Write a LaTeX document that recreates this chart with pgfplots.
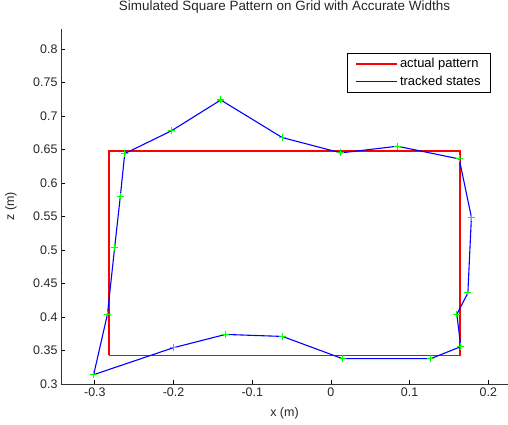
\documentclass[border=0pt]{standalone}
\usepackage{pgfplots}
\pgfplotsset{compat=1.18}
\usetikzlibrary{calc}
\usepackage{fontspec}
\setmainfont{Liberation Sans}
\definecolor{mgreen}{rgb}{0,1,0}
\begin{document}
\begin{tikzpicture}
\begin{axis}[
  scale only axis, width=447bp, height=355bp,
  xmin=-0.343, xmax=0.225, ymin=0.3, ymax=0.83,
  axis x line*=bottom, axis y line*=left,
  xtick={-0.3,-0.2,-0.1,0,0.1,0.2},
  xticklabels={-0.3,-0.2,-0.1,0,0.1,0.2},
  ytick={0.3,0.35,0.4,0.45,0.5,0.55,0.6,0.65,0.7,0.75,0.8},
  yticklabels={0.3,0.35,0.4,0.45,0.5,0.55,0.6,0.65,0.7,0.75,0.8},
  tick align=inside, major tick length=4bp,
  tick style={black, line width=0.8bp},
  axis line style={black!80, line width=0.8bp},
  ticklabel style={font=\fontsize{12.5}{14}\selectfont, text=black!85},
  title={Simulated Square Pattern on Grid with Accurate Widths},
  title style={font=\fontsize{13.5}{15}\selectfont, at={(axis description cs:0.5,1.045)}, anchor=center, text=black!85},
  xlabel={x (m)}, ylabel={z (m)},
  xlabel style={font=\fontsize{12.5}{14}\selectfont, at={(axis description cs:0.5,-0.082)}, anchor=center, text=black!85},
  ylabel style={font=\fontsize{12.5}{14}\selectfont, at={(axis description cs:-0.112,0.5)}, anchor=center, text=black!85},
  legend style={at={(0.962,0.932)}, anchor=north east, draw=black, line width=0.8bp,
    font=\fontsize{13}{14}\selectfont, inner xsep=8bp, inner ysep=3bp, row sep=3bp, cells={anchor=west}},
  legend image code/.code={\draw[#1] (0bp,0bp) -- (41bp,0bp);},
  clip=false,
]
\addplot[color=red, line width=1.2bp] coordinates {
(-0.282,0.3428) (-0.282,0.6478) (0.164,0.6478) (0.164,0.3428) (-0.282,0.3428)};
\addlegendentry{actual pattern}
\addplot[color=blue, line width=1.1bp] coordinates {
(-0.3015,0.3139) (-0.284,0.404) (-0.2748,0.504) (-0.2676,0.580) (-0.262,0.644)
(-0.2027,0.678) (-0.140,0.724) (-0.062,0.668) (0.0127,0.645) (0.0844,0.655)
(0.163,0.636) (0.1785,0.549) (0.174,0.436) (0.160,0.404) (0.165,0.3557)
(0.1268,0.3378) (0.0148,0.3378) (-0.0615,0.371) (-0.134,0.374) (-0.2006,0.354)
(-0.3015,0.3139)};
\addlegendentry{tracked states}
\addplot[only marks, mark=+, mark size=3.5bp, color=mgreen, line width=1.1bp, forget plot] coordinates {
(-0.3015,0.3139) (-0.284,0.404) (-0.2748,0.504) (-0.2676,0.580) (-0.262,0.644)
(-0.2027,0.678) (-0.140,0.724) (-0.062,0.668) (0.0127,0.645) (0.0844,0.655)
(0.163,0.636) (0.1785,0.549) (0.174,0.436) (0.160,0.404) (0.165,0.3557)
(0.1268,0.3378) (0.0148,0.3378) (-0.0615,0.371) (-0.134,0.374) (-0.2006,0.354)};
\end{axis}
\pgfresetboundingbox
\useasboundingbox ($(current axis.south west)+(-61bp,-41bp)$) rectangle ($(current axis.north east)+(0bp,29bp)$);
\end{tikzpicture}
\end{document}
